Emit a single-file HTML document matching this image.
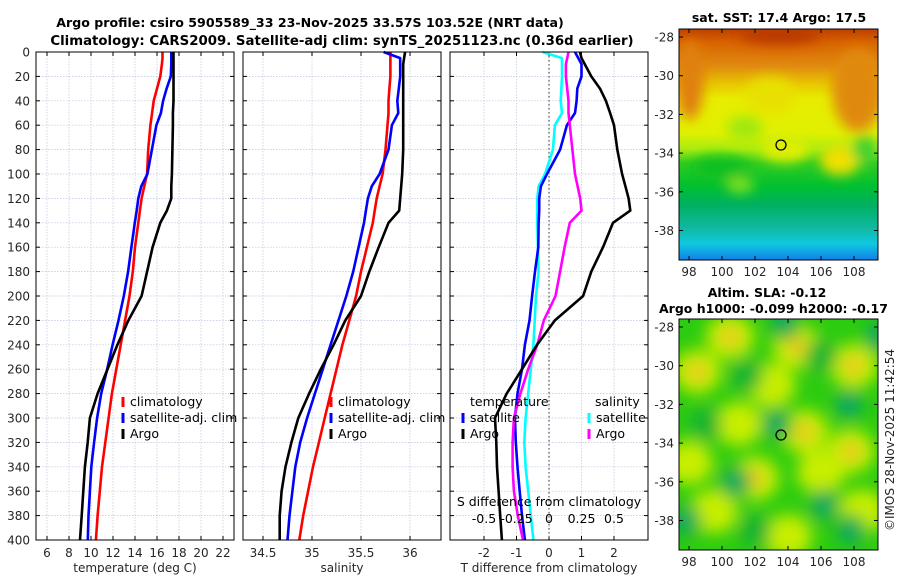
<!DOCTYPE html>
<html><head><meta charset="utf-8">
<style>
body{margin:0;background:#fff;width:900px;height:580px;overflow:hidden;font-family:"DejaVu Sans","Liberation Sans",sans-serif;}
svg text{font-family:"DejaVu Sans","Liberation Sans",sans-serif;}
</style></head>
<body>
<svg id="fig" width="900" height="580" viewBox="0 0 900 580" xmlns="http://www.w3.org/2000/svg">
<defs>
<linearGradient id="sstgrad" x1="0" y1="0" x2="0" y2="1">
<stop offset="0" stop-color="#c04000"/><stop offset="0.06" stop-color="#d86400"/>
<stop offset="0.16" stop-color="#e08a10"/><stop offset="0.24" stop-color="#e8c800"/>
<stop offset="0.3" stop-color="#e8ec00"/><stop offset="0.45" stop-color="#e0f000"/>
<stop offset="0.52" stop-color="#a8ec10"/><stop offset="0.58" stop-color="#30cc20"/>
<stop offset="0.68" stop-color="#00c030"/><stop offset="0.76" stop-color="#00b060"/>
<stop offset="0.86" stop-color="#10b8a0"/><stop offset="0.93" stop-color="#10c8e0"/>
<stop offset="1" stop-color="#1080e8"/>
</linearGradient>
<filter id="blur6"><feGaussianBlur stdDeviation="6"/></filter>
<filter id="blur4"><feGaussianBlur stdDeviation="8"/></filter>
<clipPath id="clipTop"><rect x="679" y="29" width="199" height="231"/></clipPath>
<clipPath id="clipBot"><rect x="679" y="319" width="199" height="231"/></clipPath>
</defs>
<g id="titles">
<text x="310" y="27" text-anchor="middle" font-size="12.6" font-weight="bold">Argo profile: csiro 5905589_33 23-Nov-2025 33.57S 103.52E (NRT data)</text>
<text x="342" y="45" text-anchor="middle" font-size="13.3" font-weight="bold">Climatology: CARS2009. Satellite-adj clim: synTS_20251123.nc (0.36d earlier)</text>
</g>
<g id="panels"></g>
<g id="maps">
<text x="779" y="22" text-anchor="middle" font-size="12.5" font-weight="bold">sat. SST: 17.4 Argo: 17.5</text>
<g clip-path="url(#clipTop)">
<rect x="679" y="29" width="199" height="231" fill="url(#sstgrad)"/>
<g filter="url(#blur6)">
<ellipse cx="690" cy="80" rx="14" ry="40" fill="#e08010"/>
<ellipse cx="770" cy="95" rx="25" ry="18" fill="#e8e000"/>
<ellipse cx="858" cy="90" rx="26" ry="42" fill="#e08a10"/>
<ellipse cx="840" cy="160" rx="20" ry="15" fill="#f0e000"/>
<ellipse cx="865" cy="150" rx="12" ry="14" fill="#40d030"/>
<ellipse cx="720" cy="168" rx="28" ry="12" fill="#10c020"/>
<ellipse cx="785" cy="150" rx="24" ry="12" fill="#e0ee00"/>
<ellipse cx="780" cy="36" rx="40" ry="8" fill="#b83800"/>
<ellipse cx="745" cy="128" rx="18" ry="12" fill="#a0e810"/>
<ellipse cx="740" cy="185" rx="14" ry="8" fill="#80e020"/>
</g>
<circle cx="781" cy="145" r="5" fill="none" stroke="#000" stroke-width="1.3"/>
</g>
<rect x="679" y="29" width="199" height="231" fill="none" stroke="#000" stroke-width="1"/>
<text x="767" y="297" text-anchor="middle" font-size="12.5" font-weight="bold">Altim. SLA: -0.12</text>
<text x="659" y="313" font-size="12.5" font-weight="bold">Argo h1000: -0.099 h2000: -0.17</text>
<g clip-path="url(#clipBot)">
<rect x="679" y="319" width="199" height="231" fill="#2ccc10"/>
<g id="slablobs" filter="url(#blur4)"></g>
<circle cx="781" cy="435" r="5" fill="none" stroke="#000" stroke-width="1.3"/>
</g>
<rect x="679" y="319" width="199" height="231" fill="none" stroke="#000" stroke-width="1"/>
<text transform="translate(894,440) rotate(-90)" text-anchor="middle" font-size="12" fill="#262626">©IMOS 28-Nov-2025 11:42:54</text>
</g>
</svg>
<script>
// ---- profile data ----
const depths = [0,5,10,20,30,40,50,60,80,100,110,120,130,140,160,180,200,220,240,260,280,300,320,340,360,380,400];
const tempClim = [16.5,16.5,16.45,16.3,16.0,15.7,15.55,15.4,15.2,15.1,14.85,14.6,14.45,14.3,14.0,13.8,13.5,13.1,12.7,12.3,11.9,11.6,11.3,11.0,10.8,10.6,10.45];
const tempSat = [17.3,17.3,17.3,17.25,16.87,16.55,16.35,15.95,15.54,15.13,14.57,14.3,14.15,13.98,13.67,13.37,12.98,12.5,11.96,11.47,10.93,10.55,10.28,10.03,9.9,9.77,9.71];
const tempArgo = [17.5,17.5,17.5,17.5,17.5,17.5,17.45,17.45,17.4,17.35,17.3,17.3,16.9,16.3,15.6,15.1,14.6,13.4,12.4,11.5,10.6,9.9,9.7,9.45,9.3,9.15,9.0];
const salClim = [35.8,35.8,35.8,35.8,35.79,35.78,35.78,35.77,35.75,35.72,35.69,35.66,35.64,35.62,35.56,35.5,35.45,35.38,35.31,35.25,35.19,35.13,35.07,35.01,34.96,34.91,34.87];
const salSat = [35.73,35.9,35.9,35.9,35.885,35.87,35.88,35.815,35.78,35.69,35.61,35.57,35.55,35.53,35.475,35.42,35.35,35.27,35.19,35.11,35.03,34.95,34.88,34.83,34.8,34.77,34.75];
const salArgo = [35.95,35.94,35.93,35.93,35.93,35.93,35.93,35.93,35.93,35.92,35.91,35.9,35.89,35.78,35.68,35.585,35.5,35.34,35.22,35.09,34.97,34.86,34.79,34.73,34.69,34.67,34.67];
const dTempSat = [0.8,0.9,1.0,1.0,0.87,0.85,0.8,0.55,0.34,-0.06,-0.25,-0.3,-0.3,-0.32,-0.33,-0.43,-0.52,-0.6,-0.74,-0.83,-0.97,-1.05,-1.02,-0.97,-0.9,-0.83,-0.74];
const dTempArgo = [0.95,1.0,1.1,1.3,1.57,1.75,1.88,2.0,2.1,2.25,2.35,2.45,2.5,1.97,1.66,1.3,1.05,0.18,-0.37,-0.83,-1.3,-1.66,-1.62,-1.6,-1.55,-1.5,-1.45];
const dSalSat = [-0.05,0.1,0.1,0.1,0.095,0.09,0.1,0.045,0.03,-0.03,-0.08,-0.09,-0.09,-0.09,-0.085,-0.08,-0.1,-0.11,-0.12,-0.14,-0.16,-0.18,-0.19,-0.18,-0.16,-0.14,-0.12];
const dSalArgo = [0.15,0.14,0.13,0.13,0.14,0.15,0.15,0.16,0.18,0.2,0.22,0.24,0.25,0.16,0.12,0.085,0.05,-0.04,-0.09,-0.16,-0.22,-0.27,-0.28,-0.28,-0.27,-0.24,-0.2];
const depthTicks = [0,20,40,60,80,100,120,140,160,180,200,220,240,260,280,300,320,340,360,380,400];
const tempTicks = [6,8,10,12,14,16,18,20,22];
const salTicks = [34.5,35,35.5,36];
const salTickLabels = ['34.5','35','35.5','36'];
const dTempTicks = [-2,-1,0,1,2];
const dSalTicks = [-0.5,-0.25,0,0.25,0.5];
const dSalTickLabels = ['-0.5','-0.25','0','0.25','0.5'];
const slaHigh = [[98.5,-30.3,1],[100.5,-28.5,1],[104.5,-29,1],[108,-30,1],[105,-33.4,1],[107.8,-34.4,1],[102,-35.8,1],[98,-35,0],[101,-33,0],[103,-31,0],[99.5,-37.5,0],[108.5,-37.5,0],[104,-38.8,0],[106,-35.5,0]];
const slaLow = [[103.8,-27.8,1],[103.3,-33,1],[100.8,-36,1],[97.8,-38,1],[106.2,-37.2,1],[107.8,-38.5,1],[107.7,-32,1],[109.5,-28.5,1],[99,-33,0],[101.5,-30.5,0],[106,-29.5,0],[102,-38.5,0]];

const NS='http://www.w3.org/2000/svg';
const root=document.getElementById('panels');
function el(tag,attrs,parent){const e=document.createElementNS(NS,tag);for(const k in attrs)e.setAttribute(k,attrs[k]);(parent||root).appendChild(e);return e;}
const Y0=52,Y1=540;
const yScale=d=>Y0+(Y1-Y0)*d/400;
function panel(name,x0,x1,dmin,dmax){
  const g=el('g',{});
  
  
  const xs=v=>x0+(x1-x0)*(v-dmin)/(dmax-dmin);
  return {g,xs,x0,x1};
}
function grid(p,xt){
  depthTicks.forEach(d=>{const l=el('line',{x1:p.x0,x2:p.x1,y1:yScale(d),y2:yScale(d),stroke:'#b8c4dc','stroke-width':0.7,'stroke-dasharray':'1.5,1.5'},p.g);
    
    el('line',{x1:p.x0,x2:p.x0+4,y1:yScale(d),y2:yScale(d),stroke:'#000'},p.g);
    el('line',{x1:p.x1-4,x2:p.x1,y1:yScale(d),y2:yScale(d),stroke:'#000'},p.g);});
  xt.forEach(v=>{const l=el('line',{x1:p.xs(v),x2:p.xs(v),y1:Y0,y2:Y1,stroke:'#b8c4dc','stroke-width':0.7,'stroke-dasharray':'1.5,1.5'},p.g);
    
    el('line',{x1:p.xs(v),x2:p.xs(v),y1:Y1,y2:Y1-4,stroke:'#000'},p.g);
    el('line',{x1:p.xs(v),x2:p.xs(v),y1:Y0,y2:Y0+4,stroke:'#000'},p.g);});
}
function frame(p){const r=el('rect',{x:p.x0,y:Y0,width:p.x1-p.x0,height:Y1-Y0,fill:'none',stroke:'#000','stroke-width':1},p.g);
  }
function series(p,vals,color,name,xf){
  const pts=vals.map((v,i)=>(xf?xf(v):p.xs(v)).toFixed(1)+','+yScale(depths[i]).toFixed(1)).join(' ');
  const l=el('polyline',{points:pts,fill:'none',stroke:color,'stroke-width':2.6,'stroke-linejoin':'round'},p.g);
  
  
}
function txt(p,x,y,s,attrs,name){const t=el('text',Object.assign({x:x,y:y,'font-size':12,fill:'#262626'},attrs||{}),p.g);t.textContent=s;
  
  return t;}
function xlabels(p,ticks,labels,title){
  ticks.forEach((v,i)=>txt(p,p.xs(v),557,labels?labels[i]:String(v),{'text-anchor':'middle'},'x-tick-label'));
  txt(p,(p.x0+p.x1)/2,572,title,{'text-anchor':'middle'},'x-axis-title');
}
function legendItem(p,x,y,color,label){
  const m=el('line',{x1:x,x2:x,y1:y-9,y2:y+1,stroke:color,'stroke-width':3},p.g);
  
  txt(p,x+7,y,label,{'font-size':12.5,fill:'#000'},'legend-entry');
}
// Panel 1
const p1=panel('temperature-panel',36,234,5,23);
grid(p1,tempTicks);
series(p1,tempClim,'#ff0000','temp-climatology-line');
series(p1,tempSat,'#0000ff','temp-satellite-line');
series(p1,tempArgo,'#000000','temp-argo-line');
frame(p1);
depthTicks.forEach(d=>txt(p1,30,yScale(d)+4.5,String(d),{'text-anchor':'end'},'depth-tick-label'));
xlabels(p1,tempTicks,null,'temperature (deg C)');
legendItem(p1,123,406,'#ff0000','climatology');
legendItem(p1,123,422,'#0000ff','satellite-adj. clim');
legendItem(p1,123,438,'#000000','Argo');
// Panel 2
const p2=panel('salinity-panel',243,441,34.296,36.316);
grid(p2,salTicks);
series(p2,salClim,'#ff0000','sal-climatology-line');
series(p2,salSat,'#0000ff','sal-satellite-line');
series(p2,salArgo,'#000000','sal-argo-line');
frame(p2);
xlabels(p2,salTicks,salTickLabels,'salinity');
legendItem(p2,331,406,'#ff0000','climatology');
legendItem(p2,331,422,'#0000ff','satellite-adj. clim');
legendItem(p2,331,438,'#000000','Argo');
// Panel 3
const p3=panel('difference-panel',450,648,-3.046,3.046);
grid(p3,dTempTicks);
const zl=el('line',{x1:p3.xs(0),x2:p3.xs(0),y1:Y0,y2:Y1,stroke:'#333','stroke-width':1,'stroke-dasharray':'1.5,2.5'},p3.g);

const sx=v=>p3.xs(v*4);
series(p3,dSalSat,'#00ffff','sal-diff-satellite-line',sx);
series(p3,dTempSat,'#0000ff','temp-diff-satellite-line');
series(p3,dSalArgo,'#ff00ff','sal-diff-argo-line',sx);
series(p3,dTempArgo,'#000000','temp-diff-argo-line');
frame(p3);
xlabels(p3,dTempTicks,null,'T difference from climatology');
txt(p3,549,506,'S difference from climatology',{'text-anchor':'middle','font-size':12.5,fill:'#000'},'s-diff-axis-title');
dSalTicks.forEach((v,i)=>txt(p3,sx(v),523,dSalTickLabels[i],{'text-anchor':'middle','font-size':12.5,fill:'#000'},'s-diff-tick-label'));
txt(p3,470,406,'temperature',{'font-size':12.5,fill:'#000'},'legend-header-temperature');
legendItem(p3,463,422,'#0000ff','satellite');
legendItem(p3,463,438,'#000000','Argo');
txt(p3,595,406,'salinity',{'font-size':12.5,fill:'#000'},'legend-header-salinity');
legendItem(p3,589,422,'#00ffff','satellite');
legendItem(p3,589,438,'#ff00ff','Argo');
// Map axes
const mroot=document.getElementById('maps');
const lonTicks=[98,100,102,104,106,108];
const latTicks=[-28,-30,-32,-34,-36,-38];
const lonX=lon=>689+16.5*(lon-98);
function mapAxes(top,bottom,lat28){
  latTicks.forEach(l=>{const y=lat28+19.35*(-28-l);
    const t=el('text',{x:674,y:y+4.5,'text-anchor':'end','font-size':12,fill:'#262626'},mroot);t.textContent=String(l);
    
    el('line',{x1:679,x2:683,y1:y,y2:y,stroke:'#000'},mroot);el('line',{x1:874,x2:878,y1:y,y2:y,stroke:'#000'},mroot);});
  lonTicks.forEach(l=>{const x=lonX(l);
    const t=el('text',{x:x,y:bottom+16,'text-anchor':'middle','font-size':12,fill:'#262626'},mroot);t.textContent=String(l);
    
    el('line',{x1:x,x2:x,y1:bottom,y2:bottom-4,stroke:'#000'},mroot);el('line',{x1:x,x2:x,y1:top,y2:top+4,stroke:'#000'},mroot);});
}
mapAxes(29,260,37);
mapAxes(319,550,327);
const blobs=document.getElementById('slablobs');
const latY=lat=>327+19.4*(-28-lat);
slaHigh.forEach(b=>{
  const a=el('ellipse',{cx:lonX(b[0]),cy:latY(b[1]),rx:24,ry:22,fill:'#c8ee00'},blobs);
  
  if(b[2]){el('ellipse',{cx:lonX(b[0]),cy:latY(b[1]),rx:9,ry:10,fill:'#f0c020'},blobs);}
});
slaLow.forEach(b=>{
  const a=el('ellipse',{cx:lonX(b[0]),cy:latY(b[1]),rx:16,ry:17,fill:'#14b430'},blobs);
  
  if(b[2]){el('ellipse',{cx:lonX(b[0]),cy:latY(b[1]),rx:7,ry:8,fill:'#10a080'},blobs);}
});
</script>
</body></html>
